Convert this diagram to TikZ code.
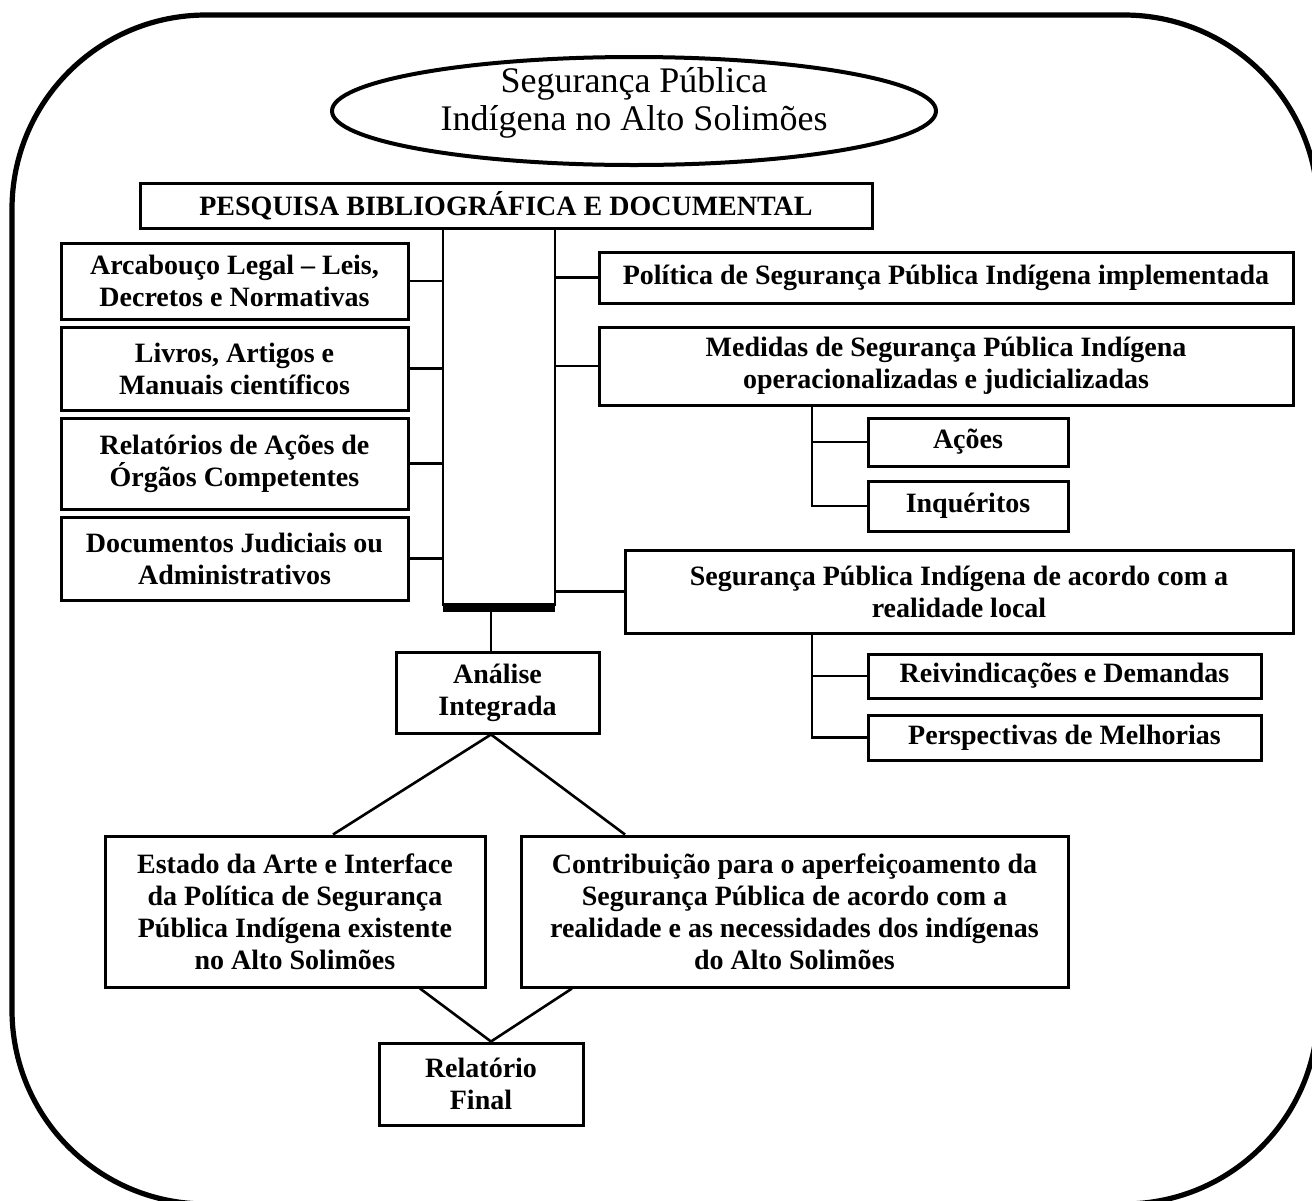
\documentclass[tikz,border=0pt]{standalone}
\usepackage{fontspec}
\setmainfont{Liberation Serif}
\usetikzlibrary{shapes.geometric,positioning}

\begin{document}
\begin{tikzpicture}[
  x=0.5pt, y=-0.5pt,
  line width=1.2pt,
  box/.style={rectangle, draw, line width=1.5pt, align=center, inner sep=0pt, font=\bfseries\fontsize{14}{16}\selectfont},
  titleshape/.style={ellipse, draw, line width=2pt, inner sep=0pt, minimum width=302pt, minimum height=54pt},
  titletext/.style={align=center, inner sep=0pt, yshift=4pt, font=\fontsize{18}{19}\selectfont},
  link/.style={draw, line width=1.3pt}
]
  \useasboundingbox (0,0) rectangle (1312,1200);
  % outer frame
  \draw[line width=2.6pt, rounded corners=97pt] (12,15) rectangle (1318,1204);

  \node[titleshape, label={[titletext]center:Segurança Pública\\Indígena no Alto Solimões}] (title) at (634,111) {};
  \node[box, minimum width=366pt, minimum height=22.5pt, font=\bfseries\fontsize{14}{16}\selectfont] (pesq) at (506,205.5) {PESQUISA BIBLIOGRÁFICA E DOCUMENTAL};

  % central column
  \coordinate (colTL) at (443,228);
  \coordinate (colTR) at (555,228);
  \coordinate (colBL) at (443,606);
  \coordinate (colBR) at (555,606);
  \coordinate (barMid) at (491,612);
  \draw[link] (colTL) -- (colBL);
  \draw[link] (colTR) -- (colBR);
  \fill (443,603) rectangle (555,612);

  % left sources
  \node[box, minimum width=173.5pt, minimum height=38pt] (arcab) at (234.5,281) {Arcabouço Legal – Leis,\\Decretos e Normativas};
  \node[box, minimum width=173.5pt, minimum height=41.5pt] (livros) at (234.5,368.5) {Livros, Artigos e\\Manuais científicos};
  \node[box, minimum width=173.5pt, minimum height=45.5pt] (relac) at (234.5,463.5) {Relatórios de Ações de\\Órgãos Competentes};
  \node[box, minimum width=173.5pt, minimum height=41.5pt] (docjud) at (234.5,558.5) {Documentos Judiciais ou\\Administrativos};
  \foreach \n in {arcab,livros,relac,docjud}
    \draw[link] (\n.east) -- (\n.east -| colTL);

  % right themes
  \node[box, minimum width=347pt, minimum height=25.5pt] (polit) at (946,277.5) {Política de Segurança Pública Indígena implementada};
  \node[box, minimum width=347pt, minimum height=39pt] (medid) at (946,366) {Medidas de Segurança Pública Indígena\\operacionalizadas e judicializadas};
  \node[box, minimum width=100pt, minimum height=24pt] (acoes) at (968,442) {Ações};
  \node[box, minimum width=100pt, minimum height=25pt] (inquer) at (968,506) {Inquéritos};
  \node[box, minimum width=334pt, minimum height=41.5pt] (local) at (959,591.5) {Segurança Pública Indígena de acordo com a\\realidade local};
  \node[box, minimum width=196.5pt, minimum height=22pt] (reiv) at (1064.5,676) {Reivindicações e Demandas};
  \node[box, minimum width=196.5pt, minimum height=22.5pt] (persp) at (1064.5,737.5) {Perspectivas de Melhorias};
  \coordinate (subA) at (812,0);
  \foreach \n in {polit,medid,local}
    \draw[link] (\n.west -| colTR) -- (\n.west);
  \draw[link] (medid.south -| subA) |- (inquer.west);
  \draw[link] (acoes.west -| subA) -- (acoes.west);
  \draw[link] (local.south -| subA) |- (persp.west);
  \draw[link] (reiv.west -| subA) -- (reiv.west);

  % synthesis
  \node[box, minimum width=101.5pt, minimum height=40.5pt] (analise) at (497.5,692.5) {Análise\\Integrada};
  \draw[link] (barMid) -- (barMid |- analise.north);
  \node[box, minimum width=190pt, minimum height=75.5pt] (estado) at (295,911.5) {Estado da Arte e Interface\\da Política de Segurança\\Pública Indígena existente\\no Alto Solimões};
  \node[box, minimum width=273.5pt, minimum height=75.5pt] (contrib) at (794.5,911.5) {Contribuição para o aperfeiçoamento da\\Segurança Pública de acordo com a\\realidade e as necessidades dos indígenas\\do Alto Solimões};
  \node[box, minimum width=102pt, minimum height=41pt] (relat) at (481,1084) {Relatório\\Final};
  \draw[link] ([xshift=19pt]estado.north) -- (barMid |- analise.south) -- ([xshift=-84.75pt]contrib.north);
  \draw[link] ([xshift=62.5pt]estado.south) -- ([xshift=5pt]relat.north) -- ([xshift=-111.25pt]contrib.south);
\end{tikzpicture}
\end{document}
